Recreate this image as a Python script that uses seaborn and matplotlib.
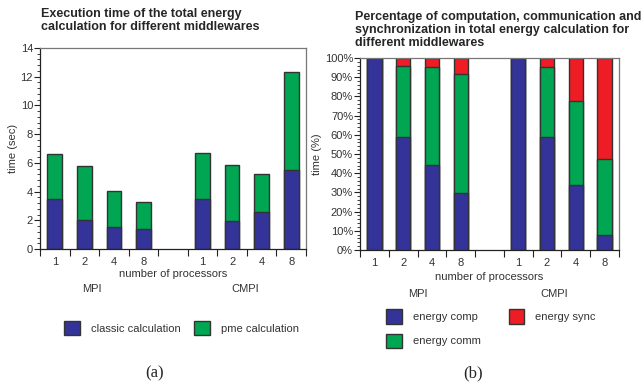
import numpy as np
import pandas as pd
import matplotlib
matplotlib.use("Agg")
import matplotlib.pyplot as plt
import matplotlib.ticker as mticker
from matplotlib.patches import Patch
import seaborn as sns

# slots along the x axis (one empty slot between middlewares)
slots = ["MPI 1", "MPI 2", "MPI 4", "MPI 8", "gap", "CMPI 1", "CMPI 2", "CMPI 4", "CMPI 8"]
bar_slots = ["MPI 1", "MPI 2", "MPI 4", "MPI 8", "CMPI 1", "CMPI 2", "CMPI 4", "CMPI 8"]
tick_labels = ["1", "2", "4", "8", "", "1", "2", "4", "8"]

# (a) execution time in seconds
classic_calc = [3.5, 2.0, 1.5, 1.4, 3.5, 1.95, 2.55, 5.5]
pme_calc = [3.15, 3.8, 2.55, 1.85, 3.2, 3.9, 2.7, 6.8]

# (b) share of the total time in %
energy_comp = [100, 59.1, 44.1, 29.5, 100, 59.0, 34.1, 7.6]
energy_comm = [0, 36.9, 51.4, 62.1, 0, 36.5, 43.7, 39.8]
energy_sync = [0, 4.0, 4.5, 8.4, 0, 4.5, 22.2, 52.6]

BLUE = "#333399"
GREEN = "#00a651"
RED = "#ee1c24"
EDGE = "#333333"

sns.set_theme(style="white")
plt.rcParams["font.family"] = ["Liberation Sans", "DejaVu Sans"]

df_a = pd.DataFrame({"slot": bar_slots, "classic": classic_calc, "pme": pme_calc})
df_a["total"] = df_a["classic"] + df_a["pme"]

df_b = pd.DataFrame({"slot": bar_slots, "comp": energy_comp,
                     "comm": energy_comm, "sync": energy_sync})
df_b["c2"] = df_b["comp"] + df_b["comm"]
df_b["c3"] = df_b["c2"] + df_b["sync"]

fig = plt.figure(figsize=(6.44, 3.9), dpi=100)
ax1 = fig.add_axes([40 / 644, 141 / 390, 266 / 644, 201 / 390])
ax2 = fig.add_axes([360 / 644, 140 / 390, 259 / 644, 192 / 390])

bar_kw = dict(order=slots, width=0.5, edgecolor=EDGE, linewidth=1.0, saturation=1)

# stacked bars: draw cumulative totals first, then the lower layers on top
sns.barplot(data=df_a, x="slot", y="total", color=GREEN, ax=ax1, **bar_kw)
sns.barplot(data=df_a, x="slot", y="classic", color=BLUE, ax=ax1, **bar_kw)

sns.barplot(data=df_b, x="slot", y="c3", color=RED, ax=ax2, **bar_kw)
sns.barplot(data=df_b, x="slot", y="c2", color=GREEN, ax=ax2, **bar_kw)
sns.barplot(data=df_b, x="slot", y="comp", color=BLUE, ax=ax2, **bar_kw)

for ax in (ax1, ax2):
    ax.set_xlim(-0.5, 8.5)
    ax.set_xticks(range(len(slots)))
    ax.set_xticklabels(tick_labels)
    ax.set_xticks(np.arange(-0.5, 9.0, 1.0), minor=True)
    ax.tick_params(axis="x", which="major", length=0, pad=6, labelsize=8, labelcolor="#333333")
    ax.tick_params(axis="x", which="minor", length=5, width=0.8, color="#222222", direction="out", bottom=True)
    ax.tick_params(axis="y", which="major", length=4, width=0.8, color="#222222", direction="out",
                   left=True, labelsize=8, labelcolor="#333333", pad=1)
    ax.tick_params(axis="y", which="minor", length=2, width=0.6, color="#222222", direction="out", left=True)
    ax.set_xlabel("number of processors", fontsize=8, color="#333333", labelpad=1)
    for s in ("left", "bottom"):
        ax.spines[s].set_color("#222222")
        ax.spines[s].set_linewidth(0.9)
    for s in ("top", "right"):
        ax.spines[s].set_color("#777777")
        ax.spines[s].set_linewidth(0.9)

ax1.set_ylim(0, 14)
ax1.yaxis.set_major_locator(mticker.MultipleLocator(2))
ax1.yaxis.set_minor_locator(mticker.MultipleLocator(0.4))
ax1.set_ylabel("time (sec)", fontsize=8, color="#333333", labelpad=2)

ax2.set_ylim(0, 100)
ax2.yaxis.set_major_locator(mticker.MultipleLocator(10))
ax2.yaxis.set_minor_locator(mticker.MultipleLocator(2))
ax2.yaxis.set_major_formatter(mticker.FuncFormatter(lambda v, p: f"{v:.0f}%"))
ax2.set_ylabel("time (%)", fontsize=8, color="#333333", labelpad=2)
ax2.xaxis.labelpad = 3

# middleware group labels
for ax, xm, xc, yy in ((ax1, 1.25, 6.45, -0.2), (ax2, 1.5, 6.25, -0.23)):
    trans = ax.get_xaxis_transform()
    ax.text(xm, yy, "MPI", transform=trans, ha="center", va="center", fontsize=8, color="#333333")
    ax.text(xc, yy, "CMPI", transform=trans, ha="center", va="center", fontsize=8, color="#333333")

fig.text(41 / 644, 1 - 8 / 390,
         "Execution time of the total energy\ncalculation for different middlewares",
         ha="left", va="top", fontsize=9, fontweight="bold", linespacing=1.1)
fig.text(355 / 644, 1 - 11 / 390,
         "Percentage of computation, communication and\nsynchronization in total energy calculation for\ndifferent middlewares",
         ha="left", va="top", fontsize=9, fontweight="bold", linespacing=1.1)

def patch(c, label):
    return Patch(facecolor=c, edgecolor=EDGE, linewidth=1.0, label=label)

leg_kw = dict(frameon=False, fontsize=8, handlelength=1.4, handleheight=1.6,
              handletextpad=1.0, labelcolor="#333333", borderaxespad=0)
fig.legend(handles=[patch(BLUE, "classic calculation"), patch(GREEN, "pme calculation")],
           ncol=2, loc="center left", bbox_to_anchor=(60 / 644, 1 - 328 / 390),
           columnspacing=1.2, **leg_kw)
fig.legend(handles=[patch(BLUE, "energy comp"), patch(GREEN, "energy comm"), patch(RED, "energy sync")],
           ncol=2, loc="upper left", bbox_to_anchor=(382 / 644, 1 - 305 / 390),
           columnspacing=2.5, labelspacing=0.9, **leg_kw)

fig.text(155 / 644, 1 - 373 / 390, "(a)", ha="center", va="center", fontsize=12,
         family=["Liberation Serif", "DejaVu Serif"])
fig.text(473 / 644, 1 - 373 / 390, "(b)", ha="center", va="center", fontsize=12,
         family=["Liberation Serif", "DejaVu Serif"])

fig.savefig("out.png", dpi=100)
